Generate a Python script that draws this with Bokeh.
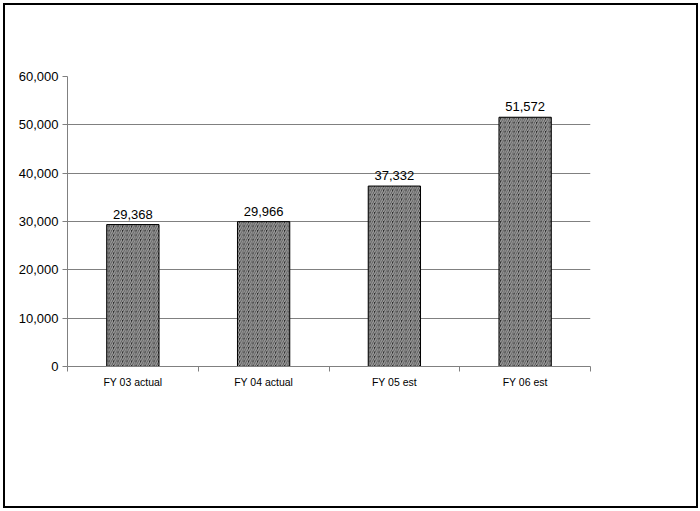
from bokeh.plotting import figure
from bokeh.models import (ColumnDataSource, Range1d, FixedTicker, NumeralTickFormatter, LabelSet)
from bokeh.core.properties import value
from bokeh.embed import file_html
from bokeh.resources import INLINE

categories = ["FY 03 actual", "FY 04 actual", "FY 05 est", "FY 06 est"]
values = [29368, 29966, 37332, 51572]
y_ticks = [0, 10000, 20000, 30000, 40000, 50000, 60000]

xs = [i + 0.5 for i in range(len(categories))]
labels = ["{:,}".format(v) for v in values]
src = ColumnDataSource(dict(x=xs, top=values, label=labels))

p = figure(width=695, height=505, output_backend="svg", toolbar_location=None,
           x_range=Range1d(0, len(categories)), y_range=Range1d(0, 60000),
           min_border_left=62, min_border_right=110, min_border_top=71, min_border_bottom=144)
p.styles = {"border": "2px solid #000000", "margin": "3px 0 0 3px"}
p.outline_line_color = None
p.background_fill_color = "white"
p.border_fill_color = "white"

p.vbar(x="x", top="top", width=0.4, source=src, fill_color="#262626", line_color="#000000",
       line_width=1, hatch_pattern="right_diagonal_line", hatch_color="#a0a0a0",
       hatch_scale=4.5, hatch_weight=1.5)

lbl = LabelSet(x="x", y="top", text="label", source=src, text_align="center",
               text_baseline="bottom", y_offset=6, text_font=value("Liberation Sans"),
               text_font_size="13px", text_color="#000000")
p.add_layout(lbl)

# x axis
p.xaxis.ticker = FixedTicker(ticks=xs, minor_ticks=list(range(len(categories) + 1)))
p.xaxis.major_label_overrides = {x: c for x, c in zip(xs, categories)}
p.xaxis.major_tick_out = 0
p.xaxis.major_tick_in = 0
p.xaxis.minor_tick_out = 5
p.xaxis.minor_tick_in = 0
p.xaxis.minor_tick_line_color = "#808080"
p.xaxis.axis_line_color = "#808080"
p.xaxis.major_label_text_font = "Liberation Sans"
p.xaxis.major_label_text_font_size = "10.5px"
p.xaxis.major_label_text_color = "#000000"
p.xaxis.major_label_standoff = 4

# y axis
p.yaxis.ticker = FixedTicker(ticks=y_ticks)
p.yaxis.formatter = NumeralTickFormatter(format="0,0")
p.yaxis.major_tick_out = 5
p.yaxis.major_tick_in = 0
p.yaxis.minor_tick_line_color = None
p.yaxis.major_tick_line_color = "#808080"
p.yaxis.axis_line_color = "#808080"
p.yaxis.major_label_text_font = "Liberation Sans"
p.yaxis.major_label_text_font_size = "13px"
p.yaxis.major_label_text_color = "#000000"
p.yaxis.major_label_standoff = 4

p.xgrid.grid_line_color = None
p.ygrid.grid_line_color = "#808080"
p.ygrid.grid_line_width = 1

open("out.html", "w").write(file_html(p, INLINE))
